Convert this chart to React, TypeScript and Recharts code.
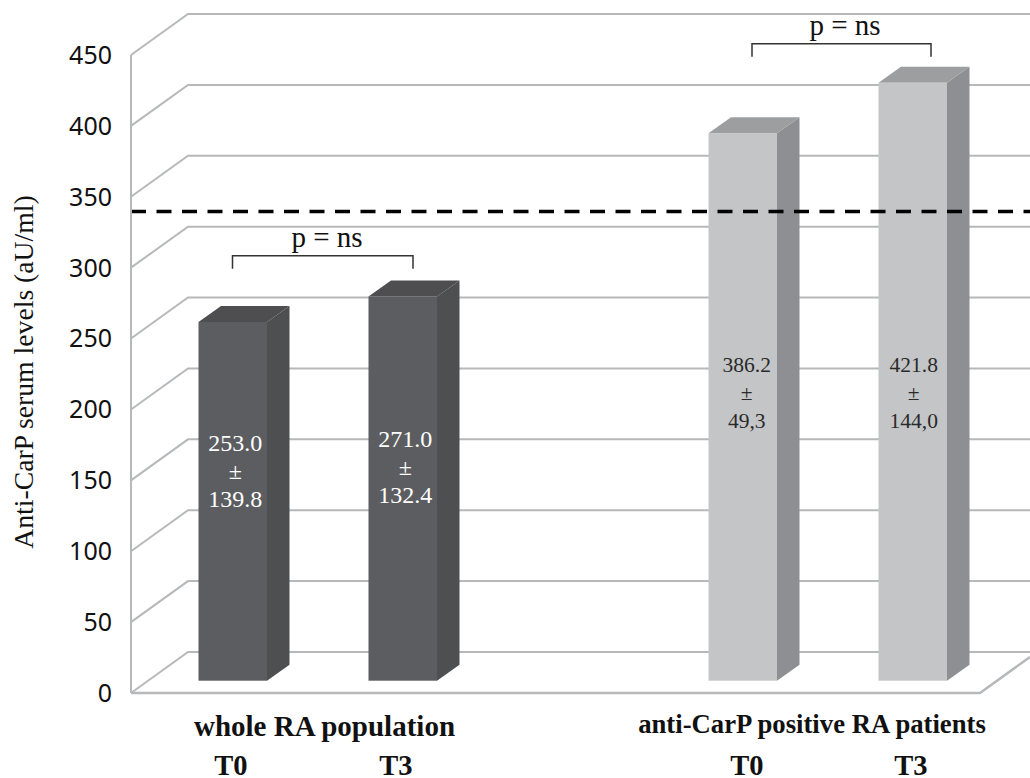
import React from 'react';
import { ComposedChart, Bar, XAxis, YAxis, CartesianGrid, ReferenceLine } from 'recharts';

const slots = ['T0', 'T3', '', 'T0', 'T3'];
const means = [253.0, 271.0, null, 386.2, 421.8];
const spreads = ['139.8', '132.4', '', '49,3', '144,0'];
const groupNames = ['whole RA population', '', '', 'anti-CarP positive RA patients', ''];
const yTicks = [0, 50, 100, 150, 200, 250, 300, 350, 400, 450];
const cutoff = 339.7;

const data = slots.map((slot, i) => ({ slotIndex: i, slot, mean: means[i], spread: spreads[i] }));

const serif = '"Liberation Serif", serif';
const gridColor = '#b7b8ba';

// pseudo 3d look: how far the back wall sits from the front plane
const depthX = 57;
const depthY = 41;
const baseLift = 12.3;
const sideX = 22.5;
const sideY = 16;

// bar colours per group
const darkFaces = { front: '#5c5d60', top: '#4e4e50', side: '#4e4f51', text: '#ffffff' };
const lightFaces = { front: '#c4c5c7', top: '#9d9ea0', side: '#8e8f92', text: '#2a2a2a' };

// nudges for texts that do not follow the bars exactly
const labelMid = [472, 468, 0, 393, 393];
const labelDx = [2.5, 2.5, 0, 4, 1];
const labelSize = [24, 24, 0, 21.5, 21.5];
const tickCentre = [231, 396, 0, 747, 911];
const groupCentre = [324.5, 0, 0, 812, 0];
const groupSize = [29, 0, 0, 26.7, 0];
const groupBase = [736, 0, 0, 733, 0];

const bracket = (x1: number, x2: number, top: number, textX: number) => (
  <g>
    <path d={`M${x1},${top + 13} V${top} H${x2} V${top + 13}`} fill="none" stroke="#333" strokeWidth={1.5} />
    <text x={textX} y={top - 9} textAnchor="middle" fontFamily={serif} fontSize={29} fill="#111">p = ns</text>
  </g>
);

const Bar3D = (props: any) => {
  const { x, y, width, height, payload } = props;
  if (payload.mean == null) return null;
  const i = payload.slotIndex;
  const c = i < 2 ? darkFaces : lightFaces;
  const top = y - baseLift;
  const bottom = y + height - baseLift;
  const right = x + width;
  const mid = labelMid[i];
  const tx = x + width / 2 + labelDx[i];
  return (
    <g>
      <path d={`M${right},${top} L${right + sideX},${top - sideY} V${bottom - sideY} L${right},${bottom} Z`} fill={c.side} />
      <path d={`M${x},${top} L${x + sideX},${top - sideY} H${right + sideX} L${right},${top} Z`} fill={c.top} />
      <rect x={x} y={top} width={width} height={height} fill={c.front} />
      <g textAnchor="middle" fontFamily={serif} fontSize={labelSize[i]} fill={c.text}>
        <text x={tx} y={mid - 21}>{payload.mean.toFixed(1)}</text>
        <text x={tx} y={mid + 7}>±</text>
        <text x={tx} y={mid + 35}>{payload.spread}</text>
      </g>
      {i === 0 && bracket(x + 34, x + 214.5, top - 66.3, x + 128.5)}
      {i === 3 && bracket(x + 43.5, x + 222.5, top - 89.4, x + 136.5)}
    </g>
  );
};

const WallLine = (props: any) => {
  const { y1, x1, x2 } = props;
  const isFloor = Math.abs(y1 - 693) < 1;
  return (
    <g fill="none" stroke={gridColor} strokeWidth={2}>
      <path d={`M${x1},${y1} L${x1 + depthX},${y1 - depthY} H${x2}`} />
      {isFloor && <path d={`M${x1},${y1} H980 L${x2},${y1 - 36}`} strokeWidth={2.5} />}
    </g>
  );
};

const SlotTick = (props: any) => {
  const { payload, index } = props;
  if (!payload.value) return null;
  return (
    <g fontFamily={serif} fontWeight="bold" fill="#111" textAnchor="middle">
      {groupNames[index] && (
        <text x={groupCentre[index]} y={groupBase[index]} fontSize={groupSize[index]}>{groupNames[index]}</text>
      )}
      <text x={tickCentre[index]} y={775} fontSize={28.5}>{payload.value}</text>
    </g>
  );
};

export default function App() {
  return (
    <div style={{ position: 'absolute', left: 0, top: 0, width: 1030, height: 778, background: '#fff' }}>
      <ComposedChart
        width={1030}
        height={778}
        data={data}
        margin={{ top: 55, right: 0, bottom: 0, left: 0 }}
        barCategoryGap={0}
      >
        <CartesianGrid vertical={false} horizontal={WallLine} />
        <XAxis
          dataKey="slot"
          axisLine={false}
          tickLine={false}
          interval={0}
          height={85}
          padding={{ left: 16.5, right: 32.5 }}
          tick={SlotTick}
        />
        <YAxis
          width={131}
          domain={[0, 450]}
          ticks={yTicks}
          interval={0}
          tickLine={false}
          tickMargin={13}
          axisLine={{ stroke: gridColor, strokeWidth: 2 }}
          tick={{ fontFamily: '"Noto Sans", sans-serif', fontSize: 25, fill: '#111' }}
          label={{
            value: 'Anti-CarP serum levels (aU/ml)',
            angle: -90,
            position: 'insideLeft',
            offset: 0,
            dx: 23,
            dy: -2,
            style: { fontFamily: serif, fontSize: 27.7, fill: '#111', textAnchor: 'middle' },
          }}
        />
        <Bar dataKey="mean" barSize={68.5} shape={Bar3D} isAnimationActive={false} />
        <ReferenceLine y={cutoff} stroke="#000" strokeWidth={3.5} strokeDasharray="15 10.5" />
      </ComposedChart>
    </div>
  );
}
